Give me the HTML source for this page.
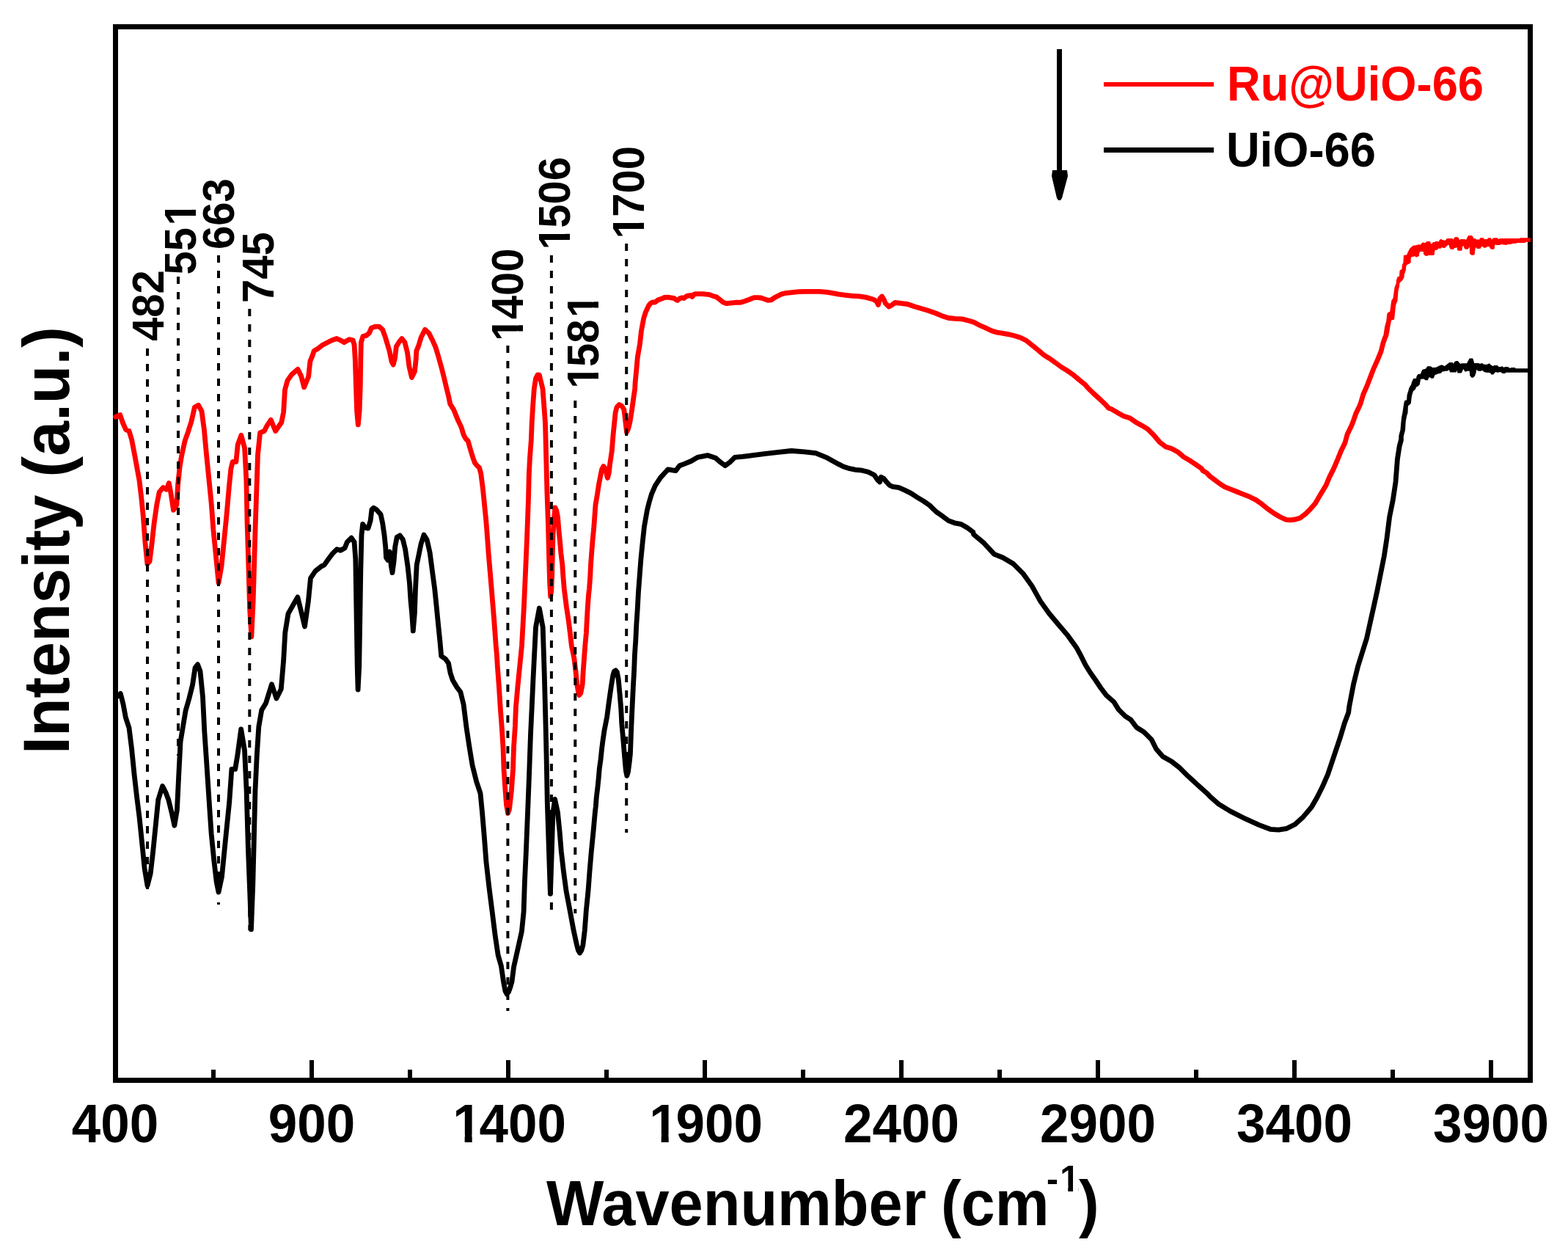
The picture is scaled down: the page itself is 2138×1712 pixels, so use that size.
<!DOCTYPE html><html><head><meta charset="utf-8"><style>html,body{margin:0;padding:0;background:#fff;}svg{display:block}text{font-family:"Liberation Sans",Arial,sans-serif;font-weight:bold}</style></head><body>
<svg xmlns="http://www.w3.org/2000/svg" width="2138" height="1712" viewBox="0 0 2138 1712">
<rect width="100%" height="100%" fill="#fff"/>
<rect x="157.5" y="36.5" width="1929" height="1436" fill="none" stroke="#000" stroke-width="7"/>
<path d="M157.5,948.0 L160.8,949.0 L164.3,945.4 L167.9,959.4 L171.4,978.1 L176.0,992.1 L179.5,1020.2 L183.0,1055.2 L186.5,1085.6 L190.0,1113.6 L193.6,1148.7 L197.1,1183.7 L201.0,1207.1 L205.2,1190.7 L208.7,1160.4 L212.2,1125.3 L215.7,1090.3 L221.6,1071.6 L226.3,1080.9 L229.8,1090.3 L234.4,1109.0 L237.9,1125.3 L241.4,1104.3 L243.8,1055.2 L246.1,1010.8 L249.6,989.8 L253.1,968.8 L257.8,952.4 L262.5,933.7 L266.0,910.4 L269.5,905.7 L273.0,915.0 L276.5,950.1 L278.8,996.8 L281.2,1031.9 L283.5,1066.9 L285.8,1102.0 L288.2,1137.0 L291.7,1172.1 L295.2,1202.4 L298.0,1216.0 L302.5,1195.0 L307.8,1141.5 L312.7,1093.4 L315.9,1048.4 L320.7,1048.4 L323.9,1029.1 L328.7,993.8 L333.5,1022.7 L336.1,1077.3 L338.4,1157.6 L340.9,1221.8 L342.5,1266.8 L344.8,1205.8 L346.4,1141.5 L348.0,1077.3 L350.3,1029.1 L352.8,990.6 L356.7,968.1 L362.5,958.4 L370.5,932.7 L376.9,952.0 L383.3,939.2 L386.6,900.6 L388.8,862.1 L393.0,836.4 L399.4,825.1 L405.8,813.9 L410.6,833.2 L415.5,854.0 L420.3,820.3 L423.5,788.2 L429.9,778.5 L437.9,772.1 L442.3,769.9 L448.0,761.8 L452.9,755.2 L459.4,748.7 L464.3,750.3 L470.1,747.0 L473.3,738.9 L479.1,733.1 L483.1,738.9 L484.8,761.8 L485.6,810.8 L486.4,859.9 L487.2,908.9 L488.1,940.0 L489.7,908.9 L490.8,843.5 L491.8,778.1 L493.0,729.1 L494.6,714.3 L497.9,719.2 L502.0,720.1 L505.2,709.4 L506.9,694.7 L509.3,692.3 L513.4,694.7 L519.1,701.3 L521.6,712.7 L524.0,729.1 L525.7,745.4 L526.5,760.1 L528.9,763.4 L531.4,752.0 L533.4,771.6 L535.0,780.6 L537.1,765.0 L538.7,745.4 L541.2,732.3 L545.3,729.9 L549.4,735.6 L552.6,748.7 L555.9,771.6 L558.4,794.5 L560.0,819.0 L561.6,835.4 L563.3,859.9 L565.4,835.4 L566.5,802.6 L568.2,769.9 L570.6,758.5 L573.9,742.1 L578.0,729.1 L582.1,735.6 L586.2,753.6 L589.4,778.1 L592.7,802.6 L595.2,827.2 L597.6,851.7 L600.1,876.2 L601.7,894.2 L607.4,898.3 L611.5,904.0 L614.0,917.1 L617.2,926.9 L623.0,936.7 L627.9,943.3 L632.1,960.3 L636.1,992.6 L640.2,1019.5 L644.2,1043.7 L649.6,1065.2 L655.0,1081.3 L657.6,1108.2 L660.3,1140.4 L663.0,1175.4 L667.0,1210.3 L671.1,1242.6 L675.1,1274.8 L679.1,1301.7 L683.4,1316.8 L686.5,1338.0 L689.0,1351.0 L691.2,1355.0 L693.5,1352.0 L696.0,1345.0 L698.0,1338.0 L700.6,1317.8 L706.0,1293.7 L711.4,1269.5 L714.1,1242.6 L715.4,1202.3 L717.3,1161.9 L719.5,1108.2 L721.6,1054.4 L723.5,1000.6 L725.4,960.3 L727.0,925.0 L730.5,855.1 L735.4,829.0 L740.2,855.1 L742.3,920.0 L743.7,973.8 L745.0,1027.5 L746.3,1094.7 L748.5,1161.9 L750.4,1218.4 L752.3,1161.9 L753.9,1108.2 L756.6,1089.4 L760.4,1106.9 L763.1,1133.7 L765.3,1160.6 L768.4,1187.5 L772.0,1214.4 L777.1,1241.2 L782.1,1268.1 L786.5,1288.2 L788.5,1295.5 L790.6,1299.0 L792.8,1295.5 L794.9,1288.2 L797.3,1268.1 L799.3,1241.2 L802.0,1214.4 L804.0,1187.5 L806.3,1160.6 L809.0,1133.7 L811.4,1106.9 L812.3,1099.3 L813.3,1086.4 L814.9,1073.5 L816.2,1060.7 L817.3,1047.8 L819.1,1035.0 L820.4,1022.1 L822.0,1009.3 L823.9,996.4 L827.7,976.8 L830.4,956.3 L833.3,935.9 L835.8,920.6 L837.5,915.0 L839.4,913.8 L841.3,916.0 L843.2,925.7 L845.1,946.1 L846.8,966.6 L847.8,987.0 L849.7,1007.5 L851.5,1030.0 L853.3,1050.0 L854.8,1057.5 L856.5,1052.0 L858.3,1038.0 L859.4,1027.9 L860.5,998.8 L861.4,977.7 L862.4,956.7 L863.4,935.7 L864.6,914.6 L865.4,893.6 L866.8,872.6 L867.8,851.5 L869.2,830.5 L870.5,806.5 L872.2,784.3 L873.9,762.1 L876.1,739.9 L878.5,717.7 L882.4,695.5 L885.2,684.4 L888.5,673.3 L893.3,662.2 L900.5,651.1 L907.7,643.3 L910.8,639.9 L921.3,641.7 L926.6,634.7 L933.6,632.1 L942.4,628.5 L951.1,623.3 L965.1,620.7 L975.6,624.2 L982.7,630.3 L988.8,634.7 L994.9,630.3 L1001.9,623.3 L1012.4,622.4 L1026.5,620.7 L1044.0,618.4 L1061.5,616.3 L1079.0,614.5 L1096.6,615.9 L1112.3,617.7 L1128.1,624.2 L1143.9,632.9 L1150.0,636.0 L1158.4,638.7 L1166.8,640.4 L1175.3,641.2 L1183.7,643.3 L1192.1,647.5 L1196.3,653.7 L1199.7,657.0 L1201.3,650.3 L1204.7,652.0 L1208.9,657.0 L1213.0,661.5 L1217.3,663.4 L1225.8,664.6 L1234.2,668.4 L1242.6,672.6 L1251.0,678.1 L1259.4,683.1 L1267.8,689.0 L1276.3,697.4 L1284.7,703.3 L1293.1,709.6 L1301.5,712.8 L1309.9,714.3 L1318.4,718.9 L1326.8,725.2 L1327.6,728.5 L1341.6,740.2 L1355.6,755.4 L1367.3,760.0 L1381.3,768.2 L1395.3,782.2 L1407.0,798.6 L1418.7,819.6 L1430.4,836.0 L1442.1,850.0 L1456.1,866.4 L1467.8,882.7 L1473.9,893.9 L1480.3,906.7 L1486.7,917.0 L1493.1,926.0 L1500.8,937.5 L1508.5,947.8 L1518.8,956.8 L1525.2,967.1 L1534.2,976.1 L1542.0,981.2 L1549.7,991.5 L1559.9,997.9 L1570.2,1008.2 L1576.6,1021.1 L1585.6,1031.3 L1597.2,1037.8 L1608.8,1046.8 L1620.3,1058.3 L1634.5,1071.2 L1647.3,1082.7 L1649.7,1085.4 L1661.0,1095.6 L1677.8,1105.9 L1698.4,1116.2 L1717.1,1124.6 L1732.1,1130.3 L1743.3,1131.2 L1754.5,1129.3 L1765.7,1123.7 L1777.0,1113.4 L1788.2,1100.3 L1795.7,1087.2 L1803.2,1072.3 L1810.6,1055.4 L1816.2,1038.6 L1821.9,1021.7 L1827.5,1004.9 L1833.1,986.2 L1838.7,971.2 L1839.6,963.6 L1845.6,932.4 L1851.5,908.5 L1857.5,889.3 L1863.5,870.2 L1868.3,848.6 L1873.1,827.1 L1877.8,805.5 L1882.6,781.6 L1887.4,757.6 L1891.0,733.7 L1894.6,704.9 L1899.4,681.0 L1903.0,657.0 L1905.4,625.9 L1908.2,608.0 L1910.4,600.0" fill="none" stroke="#000" stroke-width="6.8" stroke-linejoin="round" stroke-linecap="round"/>
<path d="M1907.3,600.0 L1907.3,594.3 L1908.3,590.1 L1909.4,586.6 L1910.1,578.2 L1911.1,568.4 L1912.2,563.5 L1913.2,557.1 L1914.3,549.4 L1915.3,545.9 L1918.1,545.2 L1918.5,538.9 L1919.2,536.1 L1920.2,533.3 L1921.3,529.1 L1922.3,527.0 L1924.1,524.2 L1925.2,520.3 L1927.3,516.1 L1931.1,515.8 L1931.5,513.0 L1933.2,510.2 L1937.1,509.5 L1938.1,506.6 L1939.5,503.8 L1942.7,503.1 L1944.1,502.4 L1946.2,499.3 L1950.8,499.3 L1953.2,501.0 L1958.1,500.7 L1963.0,498.2 L1965.8,497.2 L1967.9,498.2 L1970.0,499.1 L1973.4,496.3 L1976.2,494.0 L1980.7,494.0 L1981.5,496.0 L1983.2,493.2 L1985.2,492.1 L1987.7,492.1 L1991.3,496.0 L1993.0,495.2 L2000.0,495.2 L2000.9,493.5 L2002.3,490.9 L2003.7,488.4 L2008.2,488.4 L2009.3,491.8 L2010.1,494.9 L2016.6,494.9 L2017.7,496.0 L2019.4,495.2 L2021.6,495.2 L2023.3,496.8 L2027.8,496.8 L2030.6,495.2 L2035.1,499.1 L2037.9,498.0 L2041.8,498.0 L2043.5,499.9 L2046.9,499.9 L2048.0,499.1 L2050.8,501.0 L2051.9,499.9 L2055.9,499.9 L2059.2,501.9 L2060.3,501.0 L2066.0,501.0 L2066.5,502.2 L2087.0,502.2 L2087.0,507.8 L2053.0,507.8 L2052.5,508.9 L2048.3,508.9 L2047.4,507.8 L2044.6,506.9 L2043.5,507.8 L2041.3,507.8 L2039.6,506.9 L2038.2,508.1 L2036.2,510.6 L2033.4,510.6 L2031.7,508.1 L2026.1,507.8 L2023.3,506.7 L2021.1,504.7 L2019.4,505.8 L2015.5,505.8 L2013.2,503.8 L2012.6,508.1 L2011.0,512.5 L2008.7,514.8 L2006.5,514.8 L2004.2,512.0 L2003.7,505.8 L2000.3,505.8 L1998.6,506.7 L1997.5,506.4 L1995.3,503.0 L1993.0,508.1 L1992.4,508.6 L1987.4,508.6 L1986.6,504.7 L1985.7,507.5 L1977.3,507.5 L1975.6,504.1 L1973.4,505.8 L1970.0,505.8 L1969.3,506.3 L1966.5,506.6 L1965.1,508.4 L1960.9,509.5 L1956.7,510.9 L1954.6,515.8 L1951.1,515.8 L1950.4,514.4 L1948.3,514.4 L1946.9,518.2 L1943.4,518.2 L1941.6,516.5 L1937.1,516.8 L1936.4,520.7 L1935.7,524.2 L1933.6,526.6 L1930.8,527.7 L1930.1,530.5 L1926.9,533.3 L1925.2,538.9 L1924.5,543.1 L1923.8,550.1 L1919.9,553.6 L1919.5,562.7 L1918.1,567.0 L1916.7,574.7 L1916.0,586.6 L1913.9,594.3 L1913.6,600.0 Z" fill="#000"/>
<path d="M157.6,568.2 L163.8,565.6 L167.3,576.0 L171.6,585.7 L176.0,587.5 L179.5,598.9 L183.9,621.6 L187.4,640.9 L190.0,655.0 L192.7,677.7 L195.3,704.0 L197.9,739.0 L200.9,768.8 L204.0,765.3 L206.7,744.3 L210.2,712.7 L213.7,688.2 L217.2,670.7 L222.5,664.6 L226.8,667.2 L230.3,658.4 L233.0,672.4 L236.5,695.2 L240.9,688.2 L242.6,660.2 L245.2,635.6 L247.9,619.9 L252.2,600.6 L256.6,588.3 L261.0,574.3 L265.4,555.0 L270.6,552.4 L275.0,560.3 L278.5,586.6 L281.2,616.4 L284.7,651.4 L288.2,686.5 L290.8,721.5 L294.3,756.6 L298.0,794.5 L302.0,772.0 L305.5,737.0 L309.0,702.0 L312.5,662.0 L314.9,638.9 L317.2,629.5 L321.9,629.5 L324.2,606.2 L328.9,593.3 L333.6,610.8 L335.9,655.2 L337.1,713.6 L338.9,772.0 L340.6,830.5 L342.9,867.9 L345.2,818.8 L346.9,760.4 L348.3,713.6 L349.9,666.9 L351.5,620.2 L354.6,589.8 L360.4,587.5 L363.9,580.5 L369.3,572.3 L375.6,587.5 L383.8,575.8 L386.6,561.8 L388.5,531.4 L392.0,518.6 L397.8,510.4 L406.0,503.4 L410.7,512.7 L414.6,527.9 L420.6,513.5 L422.9,492.4 L425.8,485.4 L428.2,478.4 L434.0,474.9 L439.9,470.2 L445.7,467.3 L452.7,463.8 L459.1,461.5 L464.4,463.8 L469.1,466.7 L476.1,462.6 L481.3,463.8 L483.1,470.2 L484.3,490.1 L485.4,525.1 L486.6,560.2 L488.3,578.9 L490.1,560.2 L491.3,525.1 L491.8,490.1 L492.4,466.7 L494.8,458.6 L499.4,457.4 L503.5,453.9 L506.4,446.9 L512.3,445.1 L517.0,445.1 L521.6,449.2 L525.1,458.6 L527.5,466.7 L531.0,478.4 L533.9,492.4 L536.2,497.1 L538.6,487.8 L540.3,472.6 L543.8,466.7 L547.9,461.5 L552.0,466.7 L555.5,480.7 L557.9,499.4 L561.4,514.6 L565.4,506.4 L567.2,490.1 L567.8,478.4 L570.7,471.4 L574.2,459.7 L579.5,449.2 L584.7,453.9 L589.4,463.2 L594.1,473.7 L597.6,485.4 L602.2,501.8 L605.7,515.8 L609.3,531.0 L611.6,540.0 L613.7,550.5 L618.9,558.9 L623.9,571.5 L628.9,582.1 L632.1,592.6 L635.0,598.0 L638.1,601.0 L641.7,613.6 L644.9,624.1 L647.5,631.0 L650.5,634.6 L653.5,637.5 L655.7,645.2 L658.4,666.2 L660.5,687.2 L662.6,708.2 L663.6,720.0 L666.1,754.2 L669.9,799.1 L673.6,843.9 L676.2,880.0 L677.4,892.5 L678.3,908.0 L680.4,936.1 L682.2,964.2 L684.3,992.2 L686.0,1019.2 L687.0,1048.4 L689.0,1077.6 L690.5,1097.0 L692.5,1108.5 L694.5,1103.0 L696.0,1090.0 L697.4,1077.6 L699.5,1048.4 L700.5,1019.2 L702.4,990.0 L703.4,964.2 L705.9,936.1 L708.7,908.0 L711.5,880.0 L714.4,827.2 L716.6,778.1 L718.7,729.1 L720.5,680.0 L721.3,646.9 L722.5,623.5 L724.3,600.1 L725.2,576.8 L726.6,553.4 L728.3,530.0 L730.5,516.0 L733.0,511.0 L735.4,511.2 L740.0,530.0 L741.8,553.4 L743.5,576.8 L744.1,600.1 L744.7,623.5 L745.3,646.9 L745.9,670.2 L746.6,690.0 L747.6,720.0 L748.6,760.0 L749.6,795.0 L750.7,813.0 L751.8,805.0 L752.6,785.0 L753.2,761.8 L754.0,729.0 L755.2,710.0 L756.9,692.0 L758.5,695.0 L760.5,704.5 L761.8,720.9 L763.4,737.2 L764.8,753.6 L766.8,769.9 L767.9,786.3 L769.3,802.6 L770.2,810.0 L772.4,827.5 L775.1,845.0 L777.3,862.5 L779.3,880.0 L782.9,897.6 L785.0,915.1 L786.7,932.6 L788.3,942.0 L789.8,947.5 L791.8,945.0 L794.2,932.6 L795.2,915.1 L796.5,897.6 L797.8,880.0 L799.4,862.5 L800.3,845.0 L801.3,827.5 L802.6,810.0 L803.5,802.6 L804.7,786.3 L805.5,769.9 L806.7,753.6 L808.0,737.2 L809.6,720.9 L810.8,704.5 L812.0,688.2 L814.3,674.9 L816.4,660.8 L818.6,649.6 L820.5,640.0 L822.8,635.6 L825.0,638.0 L828.4,651.5 L830.2,645.0 L831.6,632.8 L834.4,614.1 L835.8,595.4 L837.7,576.7 L839.1,562.7 L841.0,555.0 L844.3,551.5 L847.5,553.0 L850.8,558.0 L852.5,572.0 L854.5,589.0 L856.5,585.0 L858.7,576.7 L861.7,558.0 L864.3,539.3 L865.7,530.0 L866.1,521.5 L867.8,503.9 L869.4,486.4 L872.5,468.9 L874.4,451.3 L877.7,433.8 L880.5,425.1 L884.7,416.3 L887.5,413.0 L890.0,411.9 L893.1,412.1 L897.0,409.0 L901.8,407.3 L906.0,405.5 L910.6,405.1 L915.0,405.8 L919.4,406.7 L921.5,408.5 L923.7,409.5 L926.5,407.0 L929.9,405.8 L932.5,406.5 L936.9,403.3 L939.4,403.0 L941.5,402.5 L944.0,404.5 L946.0,401.5 L948.7,400.6 L958.1,400.6 L967.4,401.6 L972.1,403.4 L976.8,404.8 L981.5,408.4 L986.1,412.1 L990.8,413.7 L995.5,413.1 L1004.8,412.1 L1009.5,412.3 L1014.2,410.9 L1018.9,409.3 L1023.5,407.5 L1028.2,405.6 L1032.9,405.6 L1037.6,406.0 L1042.3,407.6 L1046.9,409.3 L1051.6,408.9 L1056.3,405.6 L1061.0,403.2 L1065.6,400.9 L1070.3,399.7 L1079.7,398.6 L1089.0,397.6 L1098.4,397.3 L1107.7,397.3 L1117.1,397.3 L1126.4,398.1 L1134.4,399.4 L1143.7,401.2 L1153.1,402.3 L1162.4,403.3 L1171.8,403.8 L1181.1,405.4 L1190.5,408.0 L1195.0,410.5 L1197.5,415.5 L1199.8,406.8 L1202.6,404.0 L1205.4,408.7 L1207.3,413.4 L1212.0,418.1 L1216.7,415.3 L1220.4,412.5 L1227.9,413.4 L1237.3,414.5 L1246.6,417.8 L1256.0,420.6 L1265.3,423.2 L1274.7,426.5 L1284.0,430.4 L1293.4,433.5 L1302.7,434.4 L1312.1,434.9 L1321.4,437.2 L1328.0,439.3 L1335.9,443.5 L1343.8,446.9 L1351.8,450.7 L1359.7,453.2 L1367.7,454.4 L1375.6,455.8 L1383.6,457.8 L1391.5,460.2 L1399.5,464.3 L1407.4,470.7 L1415.4,477.1 L1423.3,483.8 L1431.3,488.8 L1439.2,494.4 L1447.2,500.4 L1455.1,505.1 L1463.1,510.7 L1471.0,517.4 L1479.0,523.8 L1483.2,528.6 L1491.4,536.6 L1499.5,543.9 L1507.7,551.7 L1511.8,556.4 L1515.9,557.8 L1524.1,562.7 L1532.2,567.2 L1540.4,569.7 L1548.6,575.4 L1556.8,579.9 L1564.9,584.8 L1573.1,593.0 L1581.3,602.8 L1589.5,608.9 L1597.6,611.4 L1605.8,615.9 L1614.0,622.8 L1622.2,627.7 L1630.4,633.1 L1638.5,638.8 L1640.0,641.5 L1645.1,644.4 L1650.1,649.5 L1656.8,654.5 L1663.6,659.6 L1670.3,663.8 L1678.7,667.1 L1687.1,670.5 L1695.6,673.9 L1704.0,677.2 L1712.4,681.4 L1720.8,687.3 L1729.2,694.1 L1737.6,700.0 L1746.1,705.0 L1753.6,708.4 L1759.5,708.8 L1766.3,708.0 L1773.0,705.9 L1779.7,700.8 L1786.5,694.1 L1793.2,686.5 L1799.1,676.4 L1803.5,669.0 L1807.9,661.8 L1812.8,650.1 L1818.7,638.4 L1823.7,626.7 L1828.4,615.0 L1834.0,603.4 L1837.2,591.7 L1842.9,580.0 L1845.7,572.7 L1848.9,563.4 L1853.5,554.0 L1855.4,549.3 L1858.8,537.6 L1864.0,525.9 L1868.4,514.3 L1872.9,502.6 L1878.2,490.9 L1883.0,479.2 L1885.9,467.5 L1888.6,460.0" fill="none" stroke="#ff0000" stroke-width="6.8" stroke-linejoin="round" stroke-linecap="round"/>
<path d="M1885.9,460.0 L1887.4,450.3 L1888.3,444.4 L1890.3,437.5 L1891.3,427.7 L1892.8,425.7 L1895.2,424.8 L1897.2,410.0 L1899.6,406.1 L1900.6,398.2 L1901.6,391.4 L1903.6,386.4 L1904.1,381.5 L1905.5,377.6 L1908.0,376.6 L1908.5,368.8 L1911.4,366.8 L1911.9,360.9 L1913.4,358.0 L1913.9,348.1 L1918.3,347.2 L1919.3,344.2 L1920.0,342.9 L1921.1,341.0 L1922.0,339.0 L1925.0,336.2 L1926.2,335.1 L1932.0,334.1 L1934.6,333.0 L1936.1,333.9 L1938.0,332.1 L1940.4,330.0 L1941.3,331.0 L1943.9,330.8 L1945.4,329.1 L1949.9,329.1 L1950.7,331.0 L1951.4,332.8 L1952.5,332.1 L1954.0,330.0 L1957.0,329.8 L1957.4,329.1 L1960.8,329.1 L1961.5,330.0 L1962.3,328.0 L1964.1,326.1 L1966.0,326.1 L1966.4,327.0 L1969.0,327.2 L1969.8,328.0 L1970.9,327.2 L1973.1,325.0 L1980.6,325.0 L1981.4,327.0 L1982.1,325.0 L1984.3,323.1 L1987.0,323.1 L1988.8,324.2 L1990.0,327.0 L1991.8,326.1 L1997.0,326.1 L1999.0,326.9 L2000.8,323.3 L2002.1,321.1 L2006.8,321.1 L2008.8,323.3 L2009.2,325.1 L2011.9,325.3 L2014.1,326.9 L2015.4,326.0 L2016.8,326.9 L2018.1,324.2 L2023.0,324.2 L2023.4,326.0 L2027.9,326.0 L2029.2,324.2 L2032.8,324.2 L2034.1,326.9 L2035.0,325.1 L2037.2,324.2 L2041.7,324.2 L2043.4,326.0 L2044.8,325.1 L2071.9,325.1 L2072.3,324.2 L2086.9,324.2 L2086.9,329.8 L2080.3,329.8 L2079.9,330.9 L2068.3,330.9 L2067.9,331.8 L2061.2,332.0 L2060.8,332.9 L2055.9,332.9 L2054.1,334.0 L2046.6,333.1 L2045.7,334.0 L2039.9,334.0 L2039.0,333.1 L2037.9,335.3 L2037.9,338.4 L2036.8,339.8 L2033.2,339.8 L2031.4,338.0 L2031.0,336.2 L2027.9,336.2 L2025.7,337.8 L2023.4,337.8 L2021.7,336.2 L2019.9,336.2 L2018.6,338.9 L2014.1,338.9 L2011.9,337.1 L2011.0,342.9 L2010.8,346.4 L2009.7,347.8 L2006.1,347.8 L2003.9,345.6 L2003.9,337.1 L2003.0,337.6 L2001.7,339.8 L1997.8,339.7 L1996.3,337.7 L1995.6,334.9 L1994.1,336.2 L1993.7,339.9 L1993.0,341.8 L1988.5,341.8 L1987.0,340.7 L1986.6,336.9 L1985.8,337.7 L1983.2,337.9 L1981.7,339.9 L1978.4,339.9 L1977.2,338.8 L1976.1,336.7 L1975.7,333.9 L1974.2,333.9 L1972.7,335.4 L1969.8,337.9 L1967.1,337.9 L1966.4,336.7 L1964.5,338.8 L1961.2,338.8 L1959.7,340.7 L1957.0,340.7 L1955.9,343.7 L1955.9,346.7 L1954.8,348.0 L1947.3,348.0 L1946.9,348.7 L1943.2,348.7 L1940.9,345.9 L1940.9,342.9 L1936.1,342.9 L1935.0,345.9 L1935.0,348.5 L1933.8,349.8 L1932.3,349.8 L1931.2,351.0 L1929.0,349.1 L1927.9,349.7 L1924.9,350.0 L1923.7,352.3 L1923.7,357.5 L1922.7,358.9 L1918.3,360.9 L1917.3,362.9 L1916.8,368.8 L1914.9,373.7 L1914.4,378.6 L1911.9,382.5 L1908.5,385.5 L1908.0,390.4 L1906.5,396.3 L1905.5,410.0 L1903.1,415.9 L1902.1,425.7 L1901.1,435.6 L1897.2,436.5 L1895.7,443.4 L1894.7,450.3 L1892.8,460.0 Z" fill="#ff0000"/>
<line x1="201" y1="475" x2="201" y2="1212" stroke="#000" stroke-width="4" stroke-dasharray="10 11"/>
<line x1="243" y1="377" x2="243" y2="1030" stroke="#000" stroke-width="4" stroke-dasharray="10 11"/>
<line x1="298" y1="348" x2="298" y2="1233" stroke="#000" stroke-width="4" stroke-dasharray="10 11"/>
<line x1="340.3" y1="421" x2="340.3" y2="1268" stroke="#000" stroke-width="4" stroke-dasharray="10 11"/>
<line x1="692.4" y1="471" x2="692.4" y2="1378" stroke="#000" stroke-width="4" stroke-dasharray="10 11"/>
<line x1="751.9" y1="348" x2="751.9" y2="1251" stroke="#000" stroke-width="4" stroke-dasharray="10 11"/>
<line x1="784.3" y1="546" x2="784.3" y2="1245" stroke="#000" stroke-width="4" stroke-dasharray="10 11"/>
<line x1="854.2" y1="332" x2="854.2" y2="1135" stroke="#000" stroke-width="4" stroke-dasharray="10 11"/>
<line x1="291.0" y1="1458" x2="291.0" y2="1470" stroke="#000" stroke-width="6"/>
<line x1="425.0" y1="1445" x2="425.0" y2="1470" stroke="#000" stroke-width="6"/>
<line x1="559.0" y1="1458" x2="559.0" y2="1470" stroke="#000" stroke-width="6"/>
<line x1="693.0" y1="1445" x2="693.0" y2="1470" stroke="#000" stroke-width="6"/>
<line x1="827.0" y1="1458" x2="827.0" y2="1470" stroke="#000" stroke-width="6"/>
<line x1="961.0" y1="1445" x2="961.0" y2="1470" stroke="#000" stroke-width="6"/>
<line x1="1095.0" y1="1458" x2="1095.0" y2="1470" stroke="#000" stroke-width="6"/>
<line x1="1229.0" y1="1445" x2="1229.0" y2="1470" stroke="#000" stroke-width="6"/>
<line x1="1363.0" y1="1458" x2="1363.0" y2="1470" stroke="#000" stroke-width="6"/>
<line x1="1497.0" y1="1445" x2="1497.0" y2="1470" stroke="#000" stroke-width="6"/>
<line x1="1631.0" y1="1458" x2="1631.0" y2="1470" stroke="#000" stroke-width="6"/>
<line x1="1765.0" y1="1445" x2="1765.0" y2="1470" stroke="#000" stroke-width="6"/>
<line x1="1899.0" y1="1458" x2="1899.0" y2="1470" stroke="#000" stroke-width="6"/>
<line x1="2033.0" y1="1445" x2="2033.0" y2="1470" stroke="#000" stroke-width="6"/>
<g transform="translate(157.0,1557) scale(1,1.045)"><text font-size="71"><tspan x="-59.23">400</tspan></text></g>
<g transform="translate(425.0,1557) scale(1,1.045)"><text font-size="71"><tspan x="-59.23">900</tspan></text></g>
<g transform="translate(693.0,1557) scale(1,1.045)"><text font-size="71"><tspan x="-75.78">1</tspan><tspan x="-39.49">400</tspan></text><rect x="-73.65" y="-9.94" width="14.30" height="12.07" fill="#fff"/><rect x="-49.32" y="-9.94" width="12.60" height="12.07" fill="#fff"/></g>
<g transform="translate(961.0,1557) scale(1,1.045)"><text font-size="71"><tspan x="-75.78">1</tspan><tspan x="-39.49">900</tspan></text><rect x="-73.65" y="-9.94" width="14.30" height="12.07" fill="#fff"/><rect x="-49.32" y="-9.94" width="12.60" height="12.07" fill="#fff"/></g>
<g transform="translate(1229.0,1557) scale(1,1.045)"><text font-size="71"><tspan x="-78.97">2400</tspan></text></g>
<g transform="translate(1497.0,1557) scale(1,1.045)"><text font-size="71"><tspan x="-78.97">2900</tspan></text></g>
<g transform="translate(1765.0,1557) scale(1,1.045)"><text font-size="71"><tspan x="-78.97">3400</tspan></text></g>
<g transform="translate(2033.0,1557) scale(1,1.045)"><text font-size="71"><tspan x="-78.97">3900</tspan></text></g>
<g transform="translate(0,1670) scale(1,1.045)"><text font-size="83"><tspan x="745">Wavenumber</tspan><tspan x="1283">(cm</tspan><tspan x="1427" font-size="48" dy="-44">-</tspan><tspan x="1445.14" font-size="48">1</tspan><tspan x="1471" dy="44">)</tspan></text><rect x="1447.54" y="-50.72" width="8.71" height="7.68" fill="#fff"/><rect x="1463.03" y="-50.72" width="7.65" height="7.68" fill="#fff"/></g>
<text transform="translate(94,736.5) rotate(-90) scale(1,1.045)" font-size="86" text-anchor="middle">Intensity (a.u.)</text>
<line x1="1505" y1="115" x2="1655" y2="115" stroke="#ff0000" stroke-width="6"/>
<line x1="1505" y1="204.5" x2="1655" y2="204.5" stroke="#000" stroke-width="7"/>
<text transform="translate(1673,137) scale(1,1.045)" font-size="63.3" fill="#ff0000">Ru@UiO-66</text>
<text transform="translate(1672,227) scale(1,1.045)" font-size="63.3">UiO-66</text>
<line x1="1444.5" y1="67" x2="1444.5" y2="236" stroke="#000" stroke-width="7"/>
<path d="M1435,232 L1455,232 L1456,240 L1448,270 L1446,273 L1443,273 L1441,270 L1434,240 Z" fill="#000"/>
<g transform="translate(223,465) rotate(-90) scale(1,1.045)"><text font-size="58"><tspan x="0.00">482</tspan></text></g>
<g transform="translate(267,374.6) rotate(-90) scale(1,1.045)"><text font-size="58"><tspan x="0.00">55</tspan><tspan x="67.12">1</tspan></text><rect x="68.86" y="-8.12" width="11.68" height="9.86" fill="#fff"/><rect x="88.73" y="-8.12" width="10.29" height="9.86" fill="#fff"/></g>
<g transform="translate(319,339.9) rotate(-90) scale(1,1.045)"><text font-size="58"><tspan x="0.00">663</tspan></text></g>
<g transform="translate(373,413) rotate(-90) scale(1,1.045)"><text font-size="58"><tspan x="0.00">745</tspan></text></g>
<g transform="translate(713,467.5) rotate(-90) scale(1,1.045)"><text font-size="58"><tspan x="2.61">1</tspan><tspan x="32.26">400</tspan></text><rect x="4.35" y="-8.12" width="11.68" height="9.86" fill="#fff"/><rect x="24.22" y="-8.12" width="10.29" height="9.86" fill="#fff"/></g>
<g transform="translate(776.8,343) rotate(-90) scale(1,1.045)"><text font-size="58"><tspan x="2.61">1</tspan><tspan x="32.26">506</tspan></text><rect x="4.35" y="-8.12" width="11.68" height="9.86" fill="#fff"/><rect x="24.22" y="-8.12" width="10.29" height="9.86" fill="#fff"/></g>
<g transform="translate(816,532.3) rotate(-90) scale(1,1.045)"><text font-size="58"><tspan x="2.61">1</tspan><tspan x="32.26">58</tspan><tspan x="99.38">1</tspan></text><rect x="4.35" y="-8.12" width="11.68" height="9.86" fill="#fff"/><rect x="24.22" y="-8.12" width="10.29" height="9.86" fill="#fff"/><rect x="101.12" y="-8.12" width="11.68" height="9.86" fill="#fff"/><rect x="120.99" y="-8.12" width="10.29" height="9.86" fill="#fff"/></g>
<g transform="translate(877.6,328) rotate(-90) scale(1,1.045)"><text font-size="58"><tspan x="2.61">1</tspan><tspan x="32.26">700</tspan></text><rect x="4.35" y="-8.12" width="11.68" height="9.86" fill="#fff"/><rect x="24.22" y="-8.12" width="10.29" height="9.86" fill="#fff"/></g>
</svg></body></html>
